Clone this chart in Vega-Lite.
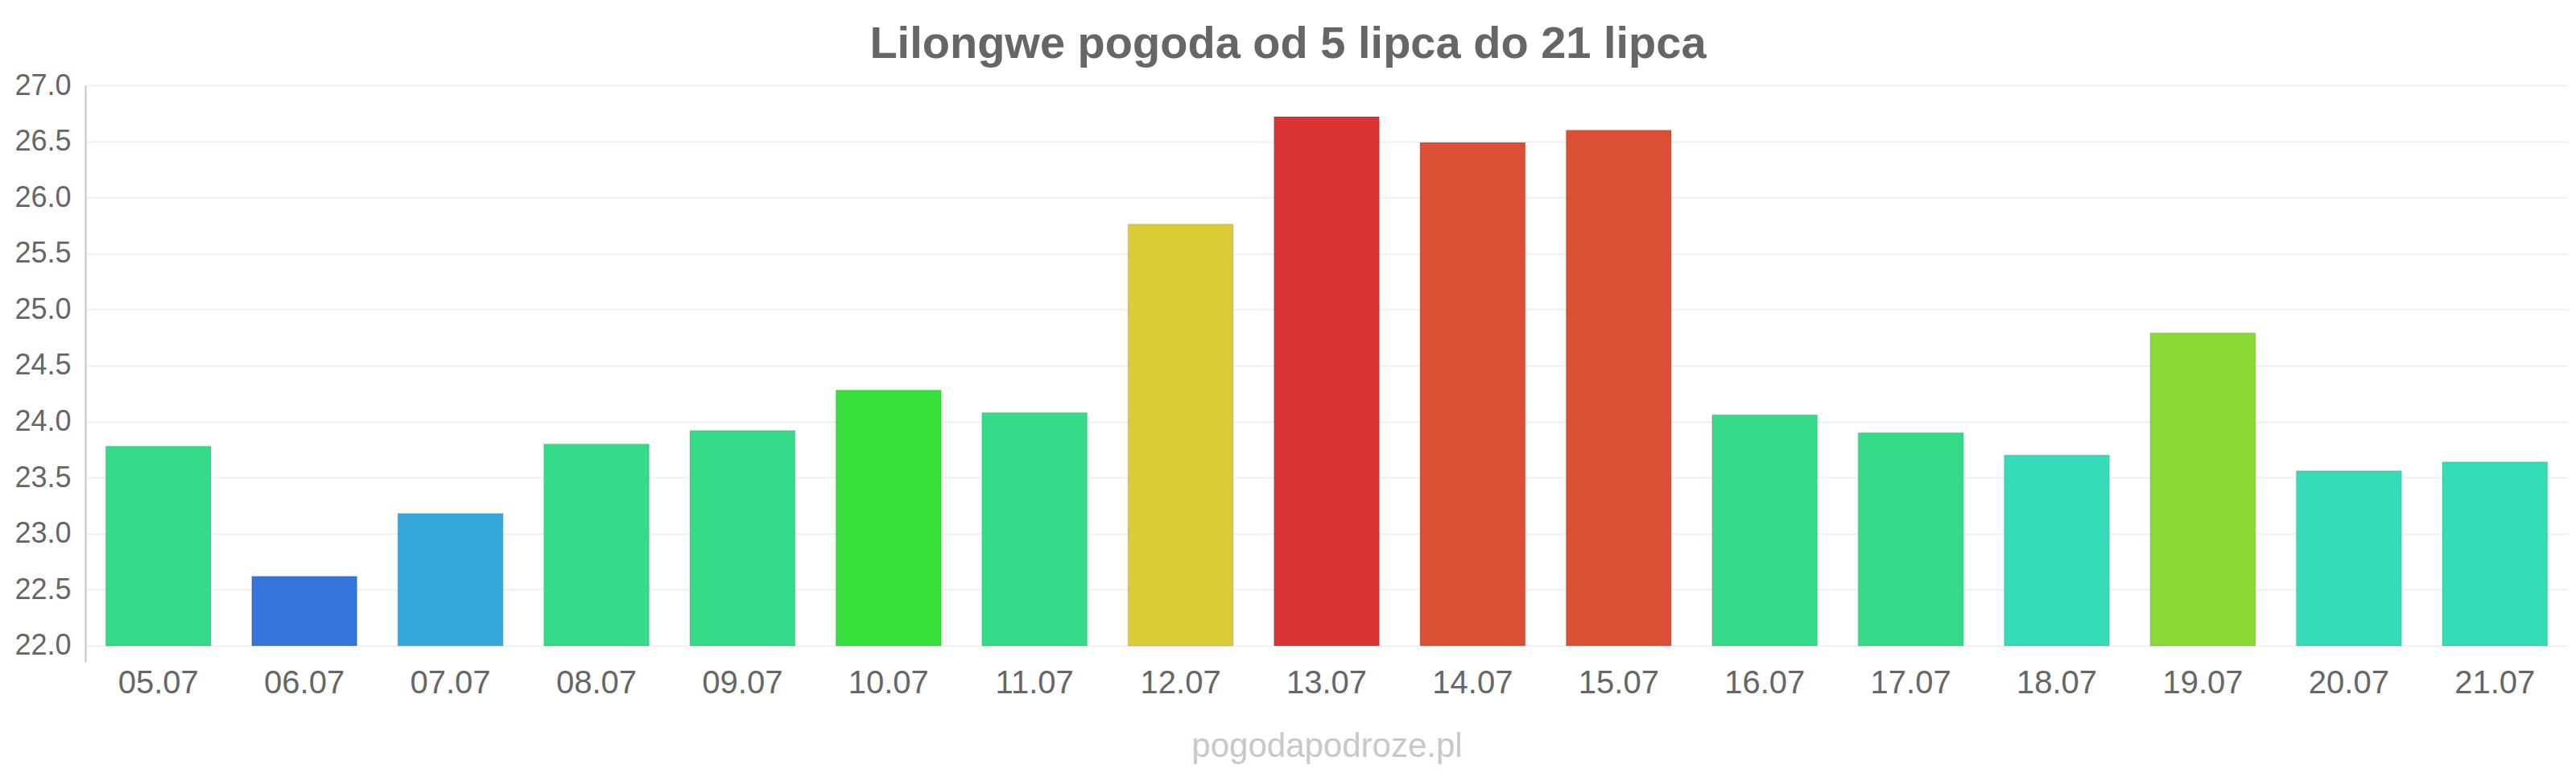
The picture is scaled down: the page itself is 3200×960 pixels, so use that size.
{
  "$schema": "https://vega.github.io/schema/vega-lite/v6.json",
  "width": 3084,
  "height": 716,
  "autosize": {"type": "none"},
  "padding": {"left": 106, "top": 106, "right": 10, "bottom": 138},
  "background": "white",
  "title": {
    "text": "Lilongwe pogoda od 5 lipca do 21 lipca",
    "font": "Liberation Sans",
    "fontSize": 56,
    "fontWeight": "bold",
    "color": "#666666",
    "anchor": "middle",
    "dx": -48,
    "offset": 4
  },
  "data": {
    "values": [
      {"date": "05.07", "temp": 23.78},
      {"date": "06.07", "temp": 22.62},
      {"date": "07.07", "temp": 23.18},
      {"date": "08.07", "temp": 23.8},
      {"date": "09.07", "temp": 23.92},
      {"date": "10.07", "temp": 24.28},
      {"date": "11.07", "temp": 24.08},
      {"date": "12.07", "temp": 25.76},
      {"date": "13.07", "temp": 26.72},
      {"date": "14.07", "temp": 26.49},
      {"date": "15.07", "temp": 26.6},
      {"date": "16.07", "temp": 24.06},
      {"date": "17.07", "temp": 23.9},
      {"date": "18.07", "temp": 23.7},
      {"date": "19.07", "temp": 24.79},
      {"date": "20.07", "temp": 23.56},
      {"date": "21.07", "temp": 23.64}
    ]
  },
  "mark": {"type": "bar", "stroke": "#000000", "strokeOpacity": 0.08, "strokeWidth": 2},
  "encoding": {
    "x": {
      "field": "date",
      "type": "ordinal",
      "sort": null,
      "scale": {"paddingInner": 0.28, "paddingOuter": 0.14},
      "axis": {
        "title": "pogodapodroze.pl",
        "titleFont": "Liberation Sans",
        "titleFontSize": 42,
        "titleFontWeight": "normal",
        "titleColor": "#c8c8c8",
        "titlePadding": 38,
        "labelFont": "Liberation Sans",
        "labelFontSize": 40,
        "labelColor": "#666666",
        "labelAngle": 0,
        "labelPadding": 6,
        "ticks": false,
        "domain": false,
        "grid": false
      }
    },
    "y": {
      "field": "temp",
      "type": "quantitative",
      "scale": {"domain": [21.856, 27], "zero": false, "nice": false},
      "axis": {
        "title": null,
        "values": [22, 22.5, 23, 23.5, 24, 24.5, 25, 25.5, 26, 26.5, 27],
        "format": ".1f",
        "labelFont": "Liberation Sans",
        "labelFontSize": 36,
        "labelColor": "#666666",
        "labelPadding": 18,
        "ticks": false,
        "domainColor": "#c4c4c4",
        "domainWidth": 2,
        "gridColor": "#f0f0f0",
        "gridWidth": 2
      }
    },
    "y2": {"datum": 22},
    "color": {
      "field": "date",
      "type": "nominal",
      "legend": null,
      "scale": {
        "domain": ["05.07","06.07","07.07","08.07","09.07","10.07","11.07","12.07","13.07","14.07","15.07","16.07","17.07","18.07","19.07","20.07","21.07"],
        "range": ["#36db8a","#3575db","#36a8db","#36db8a","#36db8a","#36df3a","#36db8a","#dbcc36","#db3434","#db5034","#db5034","#36db8a","#36db8a","#36dbb8","#8bdb36","#36dbb8","#36dbb8"]
      }
    }
  },
  "config": {"view": {"stroke": null}}
}
